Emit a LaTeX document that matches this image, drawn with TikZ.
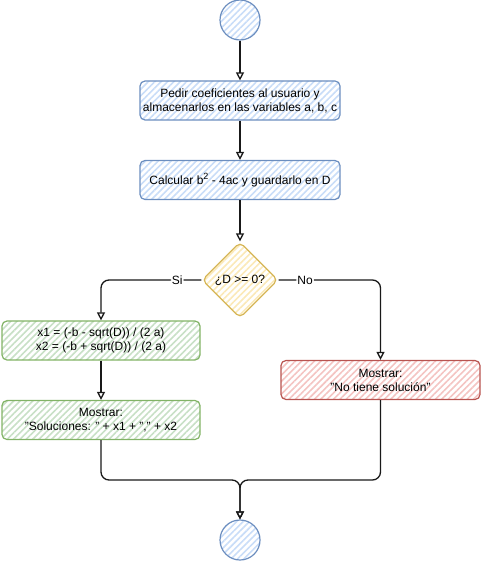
\documentclass[tikz,border=0pt]{standalone}
\usepackage{fontspec}
\setmainfont{Liberation Sans}
\usetikzlibrary{shapes.geometric,patterns.meta,arrows.meta}
\definecolor{bluef}{HTML}{C9DDF8}
\definecolor{blued}{HTML}{6C8EBF}
\definecolor{greenf}{HTML}{C8E0C6}
\definecolor{greend}{HTML}{82B366}
\definecolor{redf}{HTML}{F4C4C2}
\definecolor{redd}{HTML}{B85450}
\definecolor{yellowf}{HTML}{FBE9B8}
\definecolor{yellowd}{HTML}{D6B656}
\newcommand{\mysup}[1]{\raisebox{0.45em}{\fontsize{9}{9}\selectfont #1}}
\begin{document}
\begin{tikzpicture}[x=1pt,y=-1pt,font=\fontsize{12}{14}\selectfont,
  base/.style={line width=1.2pt, rounded corners=5pt, align=center, inner sep=0pt},
  hatch/.style={pattern={Lines[angle=45,distance=4.5pt,line width=1.6pt]}, pattern color=#1},
  bluebox/.style={base, draw=blued, hatch=bluef},
  greenbox/.style={base, draw=greend, hatch=greenf},
  redbox/.style={base, draw=redd, hatch=redf},
  yellowbox/.style={base, draw=yellowd, hatch=yellowf},
  proc/.style={rectangle, minimum width=200pt, minimum height=39pt},
  circ/.style={circle, minimum size=40pt},
  dia/.style={diamond, minimum width=76pt, minimum height=76pt, rounded corners=6pt},
  arr/.style={line width=1.3pt, draw=black!90, -{Triangle[open,length=8pt,width=8pt]}, rounded corners=8pt},
  lbl/.style={fill=white, inner sep=1pt, font=\fontsize{12}{14}\selectfont}
]
\useasboundingbox (0,0) rectangle (481,561);
\node[circ, bluebox] (s) at (240,20) {};
\node[proc, bluebox] (p1) at (240,100.5) {Pedir coeficientes al usuario y\\almacenarlos en las variables a, b, c};
\node[proc, bluebox] (p2) at (240,180) {Calcular b\mysup{2} - 4ac y guardarlo en D};
\node[dia, yellowbox] (d) at (240,280) {¿D >= 0?};
\node[proc, greenbox, minimum width=198pt] (g1) at (101,340.5) {x1 = (-b - sqrt(D)) / (2 a)\\x2 = (-b + sqrt(D)) / (2 a)};
\node[proc, greenbox, minimum width=198pt] (g2) at (101,420) {Mostrar:\\"Soluciones: " + x1 + "," + x2};
\node[proc, redbox, minimum width=199pt] (r) at (380.5,380) {Mostrar:\\"No tiene solución"};
\node[circ, bluebox] (e) at (240,540) {};
\coordinate (m) at (240,480);
\draw[arr] (s) -- (p1);
\draw[arr] (p1) -- (p2);
\draw[arr] (p2) -- (d);
\draw[arr] (d.west) -| node[pos=0.12, lbl] {Si} (g1.north);
\draw[arr] (d.east) -| node[pos=0.13, lbl] {No} (r.north);
\draw[arr] (g1) -- (g2);
\draw[arr] (g2.south) |- (m) -- (e.north);
\draw[arr] (r.south) |- (m) -- (e.north);
\end{tikzpicture}
\end{document}
